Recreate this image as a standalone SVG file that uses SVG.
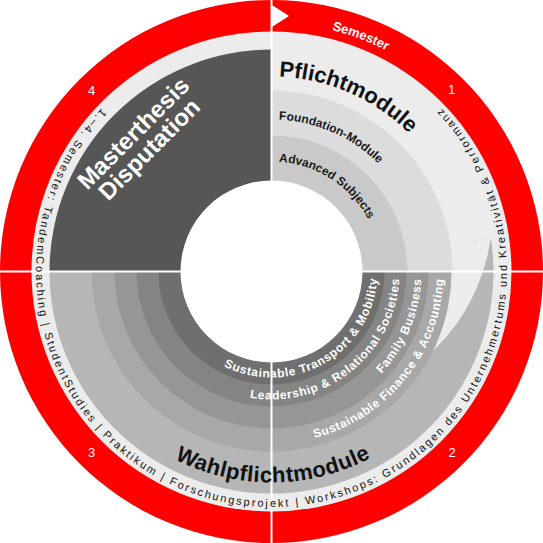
<svg xmlns="http://www.w3.org/2000/svg" xmlns:xlink="http://www.w3.org/1999/xlink" width="543" height="543" viewBox="0 0 543 543">
<style>
.sans{font-family:"Liberation Sans",Arial,sans-serif}
.ring{font-family:"Liberation Sans",Arial,sans-serif;font-size:12px;font-weight:bold;fill:#ffffff;letter-spacing:0.7px}
.sub{font-family:"Liberation Sans",Arial,sans-serif;font-size:12px;font-weight:bold;fill:#1a1a1a}
.big{font-family:"Liberation Sans",Arial,sans-serif;font-size:22px;font-weight:bold;fill:#111111}
.num{font-family:"Liberation Sans",Arial,sans-serif;font-size:13px;fill:#ffffff}
.band{font-family:"Liberation Sans",Arial,sans-serif;font-size:11px;fill:#111111}
.sep{stroke:#ffffff;stroke-width:2;fill:none}
</style>
<defs>
<path id="pSem" d="M 271.5,22.5 A 249 249 0 0 1 520.5,271.5"/>
<path id="pPfl" d="M 271.5,76.5 A 195 195 0 0 1 466.5,271.5"/>
<path id="pFound" d="M 271.5,119.5 A 152 152 0 0 1 423.5,271.5"/>
<path id="pAdv" d="M 271.5,161.5 A 110 110 0 0 1 381.5,271.5"/>
<path id="pTrans" d="M 165.5,271.5 A 106 106 0 0 0 377.5,271.5"/>
<path id="pLead" d="M 143.5,271.5 A 128 128 0 0 0 399.5,271.5"/>
<path id="pFam" d="M 121.5,271.5 A 150 150 0 0 0 421.5,271.5"/>
<path id="pFin" d="M 99.5,271.5 A 172 172 0 0 0 443.5,271.5"/>
<path id="pWahl" d="M 60.5,271.5 A 211 211 0 0 0 482.5,271.5"/>
<path id="pBand" d="M 104.98,104.98 A 235.5 235.5 0 1 0 438.02,104.98"/>
</defs>

<g id="semester-ring">
<circle cx="271.5" cy="271.5" r="271.5" fill="#ff0000"/>
<circle cx="271.5" cy="271.5" r="240" fill="#ececec"/>
</g>

<g id="masterthesis">
<path d="M 271.5,271.5 L 49.5,271.5 A 222 222 0 0 1 271.5,49.5 Z" fill="#565656"/>
</g>

<g id="wahlpflichtmodule">
<path d="M 271.5,271.5 L 490.94,237.92 A 222 222 0 1 1 49.5,271.5 Z" fill="#b6b6b6"/>
</g>

<g id="pflichtmodule">
<path d="M 490.94,237.92 L 487.28,256.41 L 482.97,271.5 L 477.63,285.91 L 471.33,299.58 L 464.15,312.45 L 456.16,324.45 L 447.47,335.55 L 438.15,345.70 L 433.28,350.41 L 271.5,271.5 Z" fill="#ececec"/>
<path d="M 271.5,271.5 L 271.5,90.5 A 181 181 0 0 1 452.5,271.5 Z" fill="#dcdcdc"/>
<path d="M 271.5,271.5 L 271.5,135.5 A 136 136 0 0 1 407.5,271.5 Z" fill="#c9c9c9"/>
</g>

<g id="wahl-rings">
<path d="M 91.5,271.5 A 180 180 0 0 0 451.5,271.5 Z" fill="#a8a8a8"/>
<path d="M 114.5,271.5 A 157 157 0 0 0 428.5,271.5 Z" fill="#969696"/>
<path d="M 136.5,271.5 A 135 135 0 0 0 406.5,271.5 Z" fill="#848484"/>
<path d="M 158.5,271.5 A 113 113 0 0 0 384.5,271.5 Z" fill="#6f6f6f"/>
</g>

<circle cx="271.5" cy="271.5" r="91" fill="#ffffff"/>

<g id="separators">
<line class="sep" x1="271.5" y1="0" x2="271.5" y2="543"/>
<line class="sep" x1="0" y1="271.5" x2="543" y2="271.5"/>
<polygon points="272,5 289,16 272,27" fill="#ffffff"/>
</g>

<g id="labels-semester">
<text class="sans" font-size="13" font-weight="bold" fill="#ffffff"><textPath xlink:href="#pSem" startOffset="61">Semester</textPath></text>
<text class="num" x="451.5" y="93.5" text-anchor="middle">1</text>
<text class="num" x="452" y="457" text-anchor="middle">2</text>
<text class="num" x="91.5" y="456.5" text-anchor="middle">3</text>
<text class="num" x="91.5" y="94.5" text-anchor="middle">4</text>
</g>

<g id="label-band">
<text class="band"><textPath xlink:href="#pBand" startOffset="50%" text-anchor="middle" textLength="1100" lengthAdjust="spacing">1.–4. Semester: TandemCoaching | StudentStudies | Praktikum | Forschungsprojekt | Workshops: Grundlagen des Unternehmertums und Kreativität &amp; Performanz</textPath></text>
</g>

<g id="label-master">
<text class="sans" font-size="24" font-weight="bold" fill="#ffffff" text-anchor="middle" transform="translate(139,139) rotate(-45)">Masterthesis</text>
<text class="sans" font-size="24" font-weight="bold" fill="#ffffff" text-anchor="middle" transform="translate(155,155) rotate(-45)">Disputation</text>
</g>

<g id="label-pflicht">
<text class="big"><textPath xlink:href="#pPfl" startOffset="7.5">Pflichtmodule</textPath></text>
<text class="sub"><textPath xlink:href="#pFound" startOffset="7.4">Foundation-Module</textPath></text>
<text class="sub"><textPath xlink:href="#pAdv" startOffset="7.5">Advanced Subjects</textPath></text>
</g>

<g id="label-wahl">
<text class="big" font-size="23" letter-spacing="0.5"><textPath xlink:href="#pWahl" startOffset="333" text-anchor="middle">Wahlpflichtmodule</textPath></text>
<text class="ring"><textPath xlink:href="#pTrans" startOffset="326" text-anchor="end">Sustainable Transport &amp; Mobility</textPath></text>
<text class="ring"><textPath xlink:href="#pLead" startOffset="395" text-anchor="end">Leadership &amp; Relational Societies</textPath></text>
<text class="ring"><textPath xlink:href="#pFam" startOffset="464" text-anchor="end">Family Business</textPath></text>
<text class="ring"><textPath xlink:href="#pFin" startOffset="533" text-anchor="end">Sustainable Finance &amp; Accounting</textPath></text>
</g>
</svg>
